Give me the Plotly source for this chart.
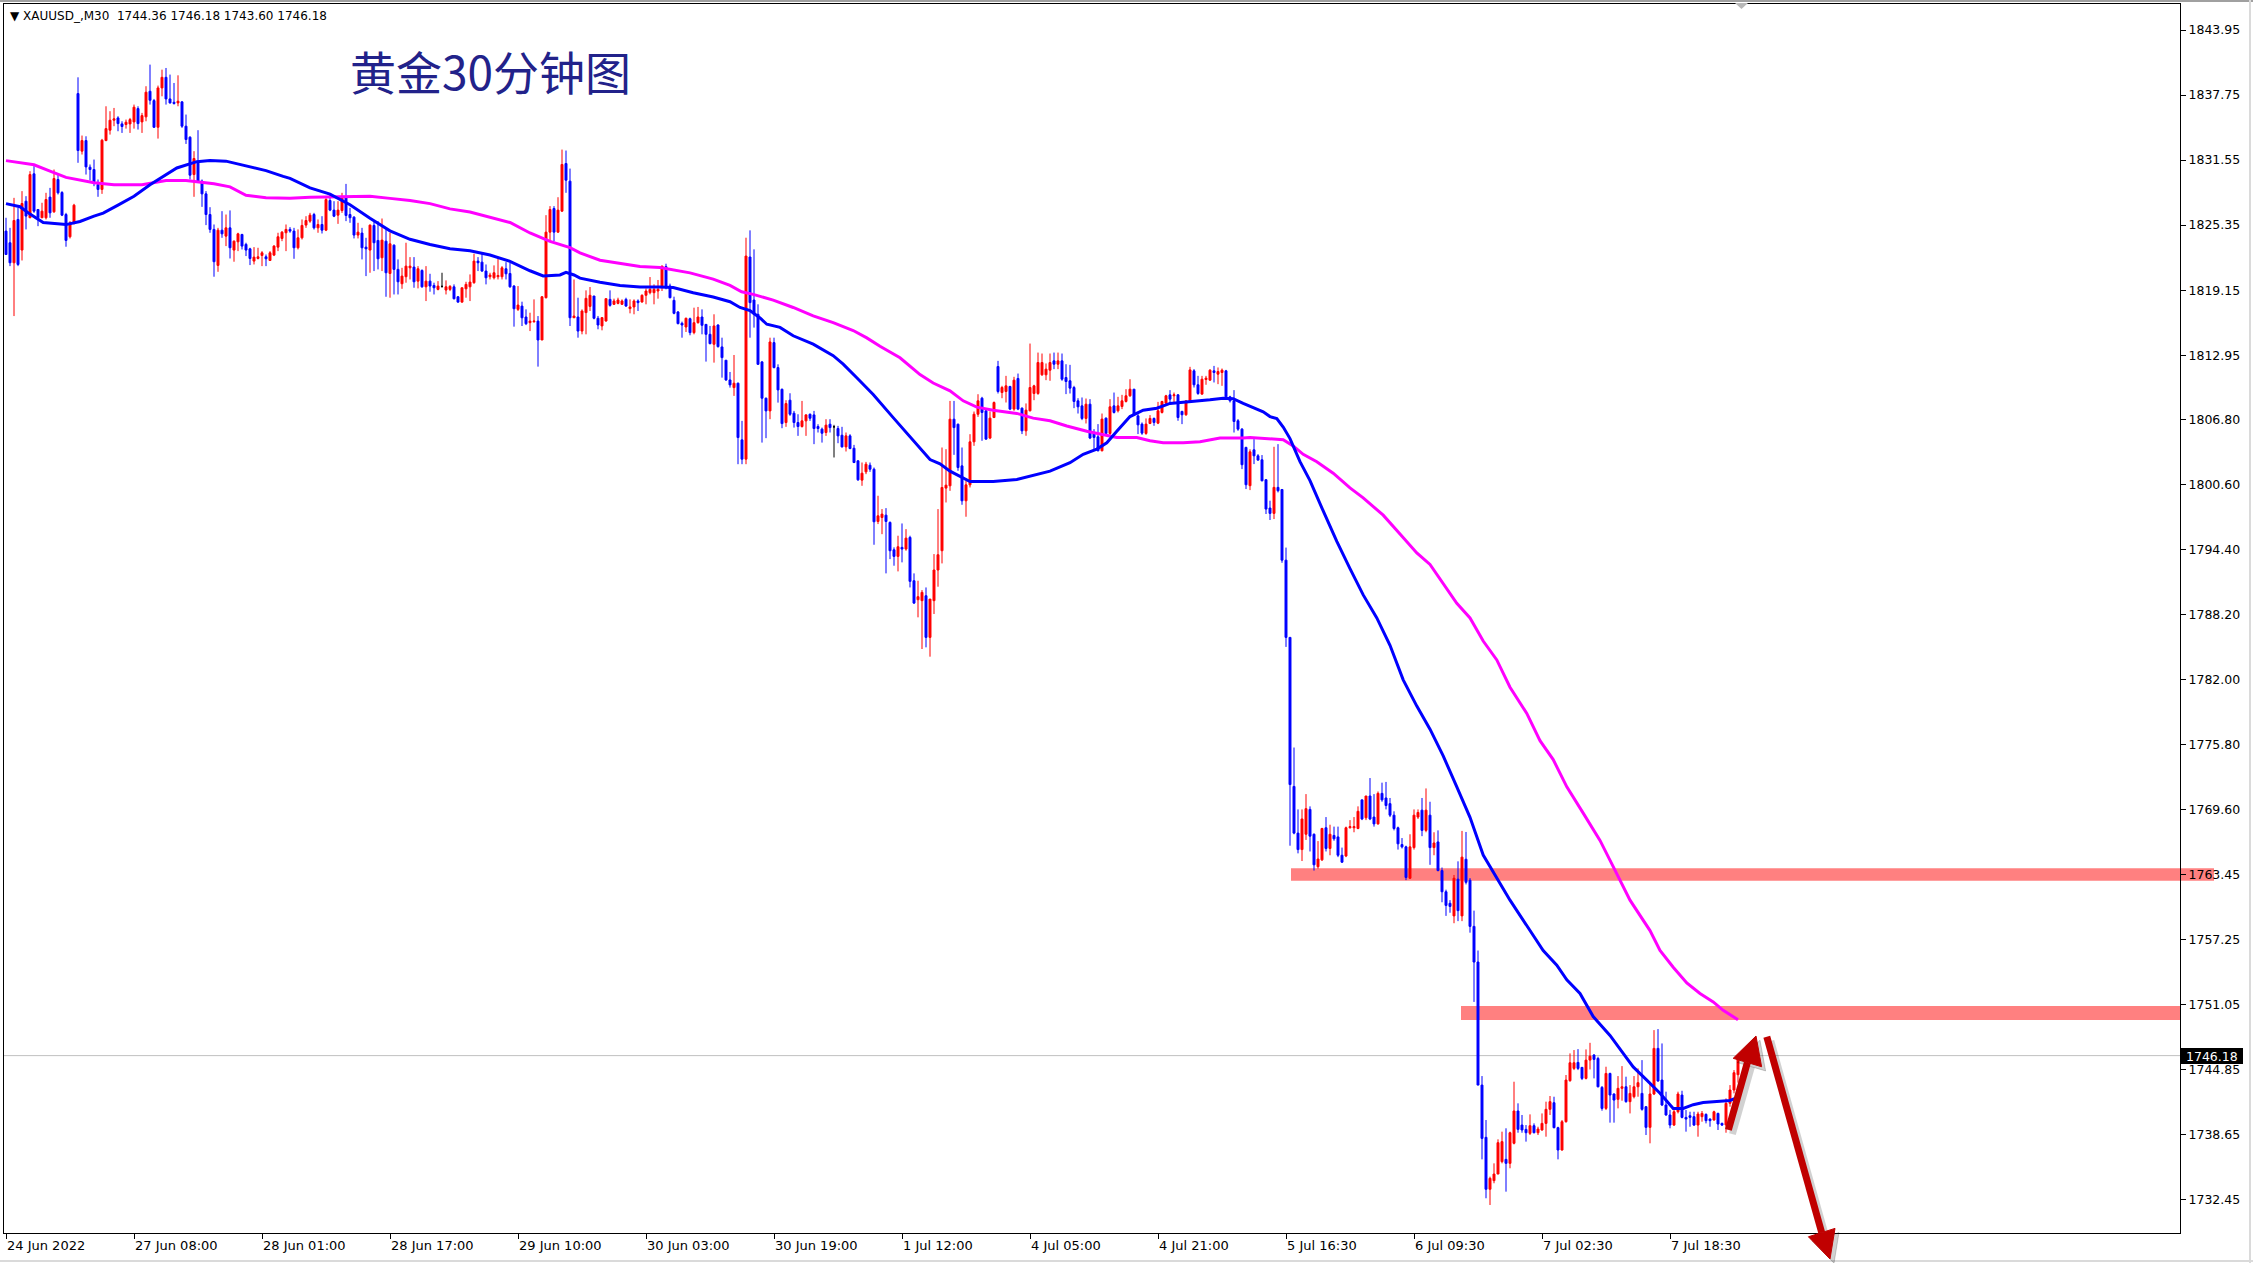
import plotly.graph_objects as go

# ---------------- data (30-minute XAUUSD bars, index 0 = 24 Jun 2022) ----------------
open_ = [
1824.78,1823.67,1821.76,1825.89,1822.97,1827.63,1826.05,1830.24,1826.84,1826.05,
1826.05,1828.02,1826.62,1829.70,1828.46,1826.36,1824.24,1825.51,1837.89,1832.40,
1833.41,1830.87,1830.65,1829.22,1828.75,1833.41,1834.40,1835.35,1835.57,1835.00,
1834.94,1835.00,1835.19,1836.46,1835.19,1835.67,1838.11,1837.22,1834.68,1838.43,
1839.44,1837.38,1837.06,1837.00,1837.10,1834.78,1833.73,1830.17,1831.29,1829.54,
1828.33,1826.36,1824.94,1821.51,1824.87,1824.30,1825.09,1822.97,1823.76,1824.46,
1823.51,1823.09,1821.92,1822.17,1822.46,1822.33,1821.98,1822.49,1823.25,1824.08,
1824.62,1824.94,1824.78,1823.19,1824.14,1825.35,1825.73,1826.36,1825.09,1825.41,
1824.87,1827.70,1826.78,1826.30,1826.74,1827.95,1826.36,1826.11,1824.40,1824.59,
1823.25,1822.97,1825.32,1823.89,1822.24,1823.82,1820.74,1823.44,1821.13,1819.76,
1820.43,1821.28,1821.35,1820.01,1821.03,1819.47,1820.01,1819.60,1819.22,1819.51,
1819.16,1819.22,1819.47,1818.52,1818.01,1819.28,1819.47,1819.86,1821.92,1821.82,
1820.97,1820.43,1820.33,1820.43,1820.43,1821.19,1820.74,1819.54,1817.32,1817.63,
1816.59,1816.05,1816.14,1816.20,1814.40,1818.43,1824.68,1826.93,1824.68,1826.68,
1831.22,1829.54,1816.52,1816.59,1815.25,1817.01,1817.60,1818.59,1816.47,1815.74,
1816.21,1818.27,1817.80,1817.89,1817.80,1818.27,1817.39,1817.55,1818.12,1818.02,
1818.66,1818.91,1818.91,1819.07,1819.55,1821.39,1819.55,1818.18,1817.07,1815.99,
1815.64,1816.43,1815.10,1816.05,1816.59,1815.89,1814.94,1813.99,1815.83,1813.74,
1812.47,1810.59,1809.86,1810.28,1804.88,1803.04,1822.31,1818.21,1816.85,1812.31,
1808.85,1807.64,1814.15,1811.77,1809.70,1806.53,1808.66,1807.42,1806.53,1806.15,
1806.69,1807.32,1807.26,1806.15,1805.90,1805.58,1806.37,1806.12,1805.96,1805.32,
1804.21,1805.26,1804.08,1802.88,1801.04,1801.83,1802.46,1802.08,1797.10,1797.48,
1797.70,1797.01,1794.40,1793.77,1794.63,1794.47,1795.58,1791.45,1789.64,1789.55,
1790.02,1786.05,1789.55,1792.47,1794.31,1800.28,1800.50,1806.85,1806.37,1802.40,
1799.07,1800.59,1804.69,1807.32,1808.85,1807.65,1805.05,1807.01,1811.87,1809.39,
1809.49,1809.97,1807.81,1810.73,1807.90,1805.74,1807.65,1809.30,1809.30,1811.08,
1811.08,1811.52,1812.41,1812.09,1812.41,1810.82,1810.51,1809.87,1808.60,1808.12,
1806.92,1808.28,1805.49,1805.17,1803.84,1806.95,1805.49,1808.12,1807.65,1808.06,
1808.54,1809.08,1809.71,1807.17,1806.38,1805.49,1806.44,1806.92,1806.47,1807.49,
1808.38,1809.17,1809.08,1809.17,1807.59,1807.27,1808.60,1811.46,1810.13,1809.24,
1810.63,1810.57,1811.46,1811.14,1811.30,1811.46,1808.98,1808.60,1806.70,1805.90,
1804.16,1800.51,1803.93,1803.36,1802.98,1801.08,1798.38,1797.87,1800.35,1800.15,
1793.41,1786.05,1771.84,1767.39,1765.82,1767.28,1769.65,1767.28,1764.19,1764.84,
1767.90,1765.93,1767.17,1767.03,1765.28,1765.21,1767.90,1767.90,1767.83,1770.56,
1768.85,1770.93,1768.92,1768.27,1771.18,1770.74,1770.20,1769.10,1767.90,1766.30,
1766.08,1763.09,1766.01,1768.92,1769.58,1767.65,1769.10,1766.01,1766.55,1763.82,
1761.80,1760.70,1759.50,1763.00,1759.50,1764.90,1762.90,1758.50,1755.10,1743.37,
1738.39,1733.44,1734.26,1734.89,1736.07,1736.29,1735.91,1737.82,1740.90,1739.56,
1739.15,1738.77,1739.50,1738.83,1739.09,1739.72,1741.06,1741.69,1739.31,1737.18,
1739.88,1743.79,1744.96,1745.53,1745.06,1744.01,1745.75,1746.23,1745.91,1743.15,
1741.15,1744.48,1742.52,1742.01,1743.06,1743.21,1741.79,1742.26,1743.21,1742.58,
1741.31,1739.34,1742.52,1746.87,1743.85,1741.47,1740.52,1739.56,1740.83,1742.42,
1740.29,1740.45,1740.36,1739.56,1740.36,1740.58,1740.13,1740.04,1740.67,1739.72,
1739.56,1741.63,1742.90,1744.36]

high = [
1826.05,1825.09,1827.95,1827.00,1828.59,1828.11,1830.49,1830.97,1826.84,1827.48,
1828.43,1828.90,1830.65,1830.17,1828.59,1826.52,1825.73,1827.38,1839.44,1833.89,
1833.82,1831.13,1831.60,1829.70,1833.57,1836.68,1836.21,1836.52,1835.73,1835.25,
1835.41,1835.57,1836.84,1836.68,1836.05,1838.59,1840.65,1837.38,1838.65,1840.17,
1840.33,1839.70,1838.90,1839.63,1837.16,1835.89,1833.82,1832.40,1834.40,1829.70,
1828.59,1827.06,1825.41,1825.09,1826.68,1826.36,1826.75,1823.89,1824.62,1824.52,
1823.67,1823.19,1823.25,1823.19,1822.87,1822.55,1822.87,1823.44,1824.62,1824.78,
1825.41,1825.16,1825.09,1824.94,1825.89,1826.20,1826.52,1826.52,1825.89,1826.20,
1828.11,1828.27,1827.63,1827.63,1828.43,1829.28,1827.00,1826.20,1825.57,1825.09,
1824.14,1825.41,1825.73,1825.73,1825.98,1824.93,1824.62,1823.51,1822.08,1821.28,
1823.67,1822.30,1822.30,1821.44,1821.13,1821.44,1820.71,1819.86,1820.01,1820.81,
1820.08,1819.63,1819.70,1818.59,1819.38,1819.95,1820.65,1822.62,1822.30,1822.62,
1821.60,1820.81,1821.51,1822.30,1821.44,1821.82,1821.76,1819.63,1819.54,1818.05,
1817.32,1817.00,1818.27,1816.68,1818.59,1826.30,1827.16,1827.16,1828.01,1832.55,
1832.46,1830.74,1820.17,1818.43,1817.32,1819.13,1819.45,1818.59,1816.69,1816.59,
1818.34,1819.13,1818.34,1818.43,1818.27,1818.43,1818.27,1818.27,1818.27,1818.75,
1819.32,1820.40,1819.70,1820.12,1821.45,1821.67,1819.77,1818.53,1817.16,1816.15,
1816.53,1816.53,1817.48,1817.55,1817.32,1815.89,1815.74,1816.85,1815.89,1814.62,
1812.47,1811.35,1812.97,1810.34,1806.69,1824.15,1824.85,1823.04,1817.80,1812.40,
1808.91,1814.62,1814.62,1812.08,1809.77,1808.66,1809.32,1807.64,1807.32,1808.59,
1807.32,1807.39,1807.64,1806.37,1806.05,1806.85,1806.85,1806.31,1806.21,1806.12,
1805.58,1805.42,1804.40,1802.94,1802.72,1802.78,1802.72,1802.24,1799.55,1798.28,
1798.37,1797.10,1794.63,1795.74,1796.91,1796.37,1795.74,1792.15,1791.45,1790.56,
1790.81,1789.70,1793.99,1798.28,1804.15,1803.99,1808.59,1808.59,1806.43,1804.15,
1800.97,1805.42,1807.58,1809.23,1808.98,1807.81,1807.59,1808.54,1812.41,1810.03,
1810.98,1810.03,1810.89,1811.20,1807.97,1808.35,1814.06,1810.13,1813.20,1813.11,
1812.16,1813.11,1813.20,1813.20,1813.11,1812.09,1812.03,1810.03,1808.85,1808.92,
1808.82,1808.76,1805.90,1806.38,1807.39,1807.01,1808.76,1809.39,1808.98,1809.17,
1809.71,1810.66,1809.71,1807.33,1806.54,1806.92,1807.24,1807.01,1808.50,1808.60,
1809.17,1809.62,1809.39,1809.24,1807.65,1808.60,1811.84,1811.62,1810.98,1810.98,
1810.98,1811.62,1811.93,1811.78,1811.68,1811.55,1809.08,1809.62,1806.86,1806.00,
1804.22,1803.98,1804.95,1803.52,1803.43,1801.14,1799.08,1804.22,1804.47,1800.15,
1794.61,1786.05,1775.55,1769.65,1769.65,1771.11,1769.94,1767.36,1766.63,1767.90,
1768.92,1768.19,1768.01,1768.01,1766.01,1768.01,1768.63,1768.92,1769.94,1770.56,
1770.93,1772.64,1771.11,1771.36,1772.20,1772.27,1770.74,1769.47,1768.01,1766.92,
1766.19,1767.28,1769.65,1769.65,1770.74,1771.65,1770.38,1767.47,1767.65,1764.11,
1762.00,1761.00,1763.40,1764.70,1767.60,1767.50,1763.10,1760.00,1756.20,1744.23,
1740.04,1734.64,1735.91,1738.20,1738.93,1739.25,1738.93,1743.69,1741.63,1740.52,
1739.56,1740.58,1739.72,1739.40,1740.67,1741.79,1742.33,1742.26,1739.40,1740.04,
1744.33,1746.39,1746.71,1746.80,1745.06,1746.77,1747.40,1746.33,1746.07,1743.28,
1745.12,1744.55,1742.58,1744.23,1745.18,1744.17,1743.37,1744.23,1744.96,1745.75,
1741.37,1743.53,1748.61,1748.71,1747.34,1742.74,1741.00,1741.06,1742.74,1742.83,
1740.99,1740.83,1740.83,1740.83,1740.90,1740.67,1740.20,1740.93,1740.74,1739.79,
1742.10,1743.37,1744.80,1746.18]

low = [
1822.55,1821.44,1816.68,1821.44,1821.98,1824.94,1826.05,1826.52,1825.25,1826.05,
1825.89,1826.05,1826.52,1828.27,1826.21,1823.29,1824.08,1825.41,1831.29,1832.08,
1830.17,1829.60,1829.06,1828.05,1828.33,1833.35,1833.98,1834.78,1834.30,1834.14,
1834.55,1834.14,1834.55,1834.46,1834.14,1835.25,1836.84,1834.62,1833.60,1837.63,
1836.84,1836.94,1836.84,1836.68,1834.62,1833.09,1829.70,1828.05,1829.38,1827.09,
1825.35,1824.62,1820.43,1820.90,1824.14,1823.35,1822.17,1821.86,1822.87,1823.03,
1822.40,1821.54,1821.60,1822.08,1821.44,1821.44,1821.98,1822.40,1822.87,1823.82,
1822.87,1824.62,1822.14,1823.03,1823.98,1825.09,1825.57,1824.93,1824.62,1824.55,
1824.78,1826.68,1826.11,1825.47,1826.52,1825.73,1825.57,1824.08,1824.08,1822.08,
1820.49,1820.81,1820.97,1821.13,1820.97,1818.52,1818.43,1818.74,1818.74,1819.28,
1819.86,1820.17,1819.38,1819.32,1819.38,1818.11,1819.00,1818.74,1819.13,1819.38,
1818.74,1819.06,1818.27,1817.95,1817.95,1818.43,1818.11,1819.76,1820.97,1820.90,
1819.70,1820.17,1820.17,1820.17,1820.17,1820.17,1819.38,1815.67,1817.16,1815.73,
1815.82,1815.25,1816.05,1811.86,1814.40,1818.36,1823.82,1823.82,1824.62,1826.62,
1828.43,1815.73,1816.52,1814.62,1814.94,1814.94,1817.16,1816.37,1815.42,1815.32,
1816.15,1817.58,1817.74,1817.80,1817.74,1817.55,1816.94,1816.85,1817.16,1817.96,
1817.80,1818.75,1817.80,1818.34,1819.07,1819.23,1818.37,1816.85,1815.89,1814.62,
1815.16,1814.85,1814.94,1815.96,1814.94,1812.34,1813.99,1812.24,1813.67,1810.81,
1810.50,1809.86,1809.07,1802.56,1802.56,1802.56,1814.62,1815.58,1812.02,1804.62,
1805.04,1806.85,1811.70,1808.43,1805.99,1806.12,1807.17,1806.05,1805.26,1806.05,
1805.26,1806.69,1804.47,1805.58,1804.62,1805.26,1805.58,1803.20,1804.56,1804.15,
1803.77,1803.99,1802.66,1800.97,1800.50,1801.61,1801.83,1794.88,1796.85,1795.89,
1792.15,1793.51,1792.88,1792.34,1793.20,1794.31,1790.81,1789.23,1787.96,1784.94,
1785.10,1784.21,1788.28,1790.88,1793.10,1798.91,1800.02,1803.45,1801.93,1798.69,
1797.55,1800.34,1804.31,1807.07,1804.79,1804.87,1804.95,1806.95,1809.30,1808.85,
1808.44,1807.71,1807.65,1807.71,1805.43,1805.27,1807.59,1808.66,1809.17,1810.98,
1810.57,1810.51,1811.62,1811.62,1810.51,1809.24,1809.30,1807.90,1807.39,1806.76,
1806.44,1804.95,1803.84,1803.78,1803.78,1805.43,1805.27,1807.39,1807.49,1807.81,
1808.44,1808.98,1807.17,1805.43,1805.36,1805.36,1806.38,1806.22,1806.38,1807.39,
1808.28,1808.22,1808.44,1806.70,1806.38,1807.17,1808.54,1809.87,1809.17,1809.17,
1810.13,1810.51,1810.35,1810.19,1810.03,1808.85,1808.44,1805.58,1805.74,1802.09,
1800.19,1800.09,1802.57,1802.89,1800.92,1797.81,1797.24,1797.33,1799.87,1793.16,
1785.14,1766.19,1767.28,1765.46,1764.73,1766.74,1765.64,1763.82,1764.00,1764.73,
1765.64,1765.28,1766.66,1765.10,1764.55,1765.10,1767.83,1767.47,1767.76,1768.63,
1768.63,1768.63,1768.01,1768.19,1770.38,1769.65,1768.92,1767.65,1765.82,1765.93,
1762.91,1763.02,1765.82,1768.74,1767.10,1767.47,1764.37,1765.28,1763.75,1760.80,
1759.50,1759.80,1758.80,1759.00,1759.00,1762.50,1757.90,1751.30,1743.37,1736.29,
1732.58,1731.94,1734.01,1734.89,1735.91,1733.21,1735.44,1737.72,1738.83,1738.83,
1737.98,1738.61,1738.77,1738.61,1739.02,1738.45,1740.52,1739.25,1736.29,1737.12,
1739.79,1743.69,1744.80,1744.80,1743.85,1743.91,1744.86,1744.01,1743.15,1740.93,
1740.99,1739.79,1739.79,1741.15,1741.88,1741.69,1740.67,1742.10,1742.26,1740.93,
1738.61,1737.82,1742.42,1743.69,1741.37,1740.45,1739.25,1739.47,1740.67,1740.20,
1738.93,1739.40,1739.47,1738.45,1739.88,1739.72,1739.40,1739.98,1739.09,1739.47,
1738.83,1741.31,1742.58,1743.60]

close = [
1822.55,1821.76,1825.79,1821.60,1827.41,1826.21,1830.17,1826.68,1826.05,1826.68,
1827.79,1826.52,1829.79,1828.43,1826.30,1823.89,1825.57,1827.25,1832.46,1833.41,
1830.90,1830.65,1829.48,1828.75,1833.44,1834.55,1835.35,1835.48,1835.03,1834.75,
1835.16,1835.41,1836.59,1835.03,1835.79,1838.02,1837.25,1834.68,1838.43,1839.44,
1837.38,1837.00,1836.94,1837.16,1834.78,1833.51,1830.11,1831.70,1829.54,1828.33,
1826.36,1824.94,1821.86,1824.87,1824.52,1825.09,1823.19,1823.82,1824.52,1823.35,
1822.97,1822.17,1822.30,1822.33,1822.71,1822.14,1822.71,1823.35,1824.24,1824.68,
1824.94,1824.78,1823.19,1824.14,1825.32,1825.79,1826.30,1825.09,1825.41,1824.87,
1827.79,1826.78,1826.20,1826.78,1827.95,1826.27,1826.05,1824.40,1824.68,1823.19,
1823.09,1825.35,1823.67,1822.14,1823.92,1820.81,1823.57,1821.13,1819.95,1820.49,
1821.44,1821.44,1819.95,1821.19,1819.47,1820.01,1819.54,1819.38,1819.54,1819.51,
1819.47,1819.51,1818.33,1818.01,1819.38,1819.70,1819.92,1821.92,1821.76,1820.97,
1820.33,1820.59,1820.81,1820.55,1821.28,1820.71,1819.47,1817.38,1817.73,1816.52,
1815.95,1816.20,1816.20,1814.40,1818.52,1824.68,1826.84,1824.68,1826.78,1831.13,
1829.63,1816.52,1816.68,1815.25,1817.16,1818.37,1818.66,1816.47,1815.83,1816.53,
1818.34,1817.70,1818.12,1818.21,1818.12,1817.64,1817.55,1818.12,1817.96,1818.66,
1819.07,1819.23,1819.23,1819.23,1821.45,1819.39,1818.43,1816.94,1815.96,1815.83,
1816.47,1815.10,1816.05,1816.59,1815.80,1814.94,1814.05,1815.74,1813.77,1812.72,
1810.59,1810.12,1810.28,1805.10,1803.04,1822.40,1817.96,1816.85,1812.08,1808.85,
1807.64,1814.21,1811.77,1809.64,1806.43,1808.34,1807.32,1806.53,1806.15,1806.69,
1807.26,1806.94,1805.96,1805.96,1805.51,1806.28,1806.05,1806.12,1805.26,1804.21,
1805.26,1804.05,1802.72,1801.07,1801.70,1802.56,1802.08,1797.07,1797.64,1797.80,
1797.10,1794.31,1793.77,1794.69,1794.47,1795.51,1791.39,1789.32,1789.93,1790.34,
1786.05,1789.70,1792.47,1793.93,1800.34,1800.56,1806.85,1806.05,1802.24,1799.07,
1800.59,1804.69,1807.32,1808.60,1807.49,1804.95,1806.95,1808.44,1809.49,1809.87,
1810.03,1807.81,1810.57,1807.81,1805.74,1807.71,1809.87,1810.03,1812.25,1812.25,
1811.62,1812.25,1812.09,1812.41,1810.66,1810.44,1809.81,1808.54,1808.03,1806.92,
1808.28,1805.05,1805.11,1803.84,1806.86,1805.49,1808.03,1807.49,1808.12,1808.60,
1809.08,1809.71,1807.27,1806.31,1805.52,1806.38,1806.92,1806.54,1807.65,1808.54,
1809.08,1808.76,1809.17,1807.01,1807.27,1808.60,1811.55,1810.13,1809.30,1810.66,
1810.76,1811.52,1811.30,1811.39,1811.52,1808.98,1808.60,1806.63,1805.90,1802.51,
1800.60,1803.74,1803.36,1802.95,1800.98,1798.28,1797.87,1800.35,1800.03,1793.41,
1786.05,1772.02,1767.39,1765.82,1768.74,1769.72,1767.10,1764.37,1764.92,1767.83,
1765.93,1767.28,1766.85,1765.28,1764.62,1767.90,1768.01,1768.01,1769.47,1768.74,
1770.93,1768.74,1768.27,1771.18,1770.56,1770.02,1769.10,1767.83,1766.37,1766.08,
1763.16,1766.08,1769.10,1769.36,1767.65,1769.58,1766.01,1766.45,1763.82,1761.80,
1760.50,1760.40,1763.09,1760.00,1765.10,1762.70,1758.50,1755.10,1743.37,1738.29,
1733.44,1734.48,1734.89,1737.88,1737.98,1735.91,1738.83,1740.90,1739.15,1739.09,
1738.83,1739.50,1738.83,1739.18,1739.72,1741.06,1741.79,1739.31,1737.18,1739.88,
1743.85,1745.50,1745.50,1744.96,1744.01,1745.75,1746.13,1745.82,1743.21,1741.15,
1744.48,1742.42,1741.94,1743.06,1743.21,1741.79,1742.58,1743.21,1743.60,1741.06,
1739.34,1742.52,1746.87,1743.76,1741.47,1740.52,1739.56,1740.83,1742.52,1740.29,
1740.13,1740.29,1739.56,1740.61,1740.67,1739.98,1739.98,1740.83,1739.66,1739.56,
1741.63,1742.90,1744.55,1746.18]

# moving averages: (bar index, price)
ma_fast = [(0,1827.4),(3.5,1827.1),(6,1826.4),(9.3,1825.6),(15,1825.4),(18.5,1825.7),(22,1826.2),
(24.3,1826.5),(28,1827.25),(32,1828.1),(36,1829.2),(39.3,1830.0),(42.7,1830.8),(47.7,1831.4),(51,1831.5),
(55,1831.45),(60,1831.0),(65,1830.55),(69.3,1830.0),(71,1829.8),(76,1828.9),(81,1828.3),(86,1827.3),
(91,1826.0),(96,1824.8),(101,1824.0),(106,1823.5),(111,1823.1),(116,1822.9),(121,1822.5),(126,1821.9),
(131,1821.0),(134.3,1820.5),(138.5,1820.6),(140,1820.85),(142,1820.6),(143.5,1820.3),(148.5,1819.9),
(153.5,1819.6),(158.5,1819.45),(163.5,1819.45),(166.8,1819.4),(171.8,1818.9),(176.8,1818.5),(181,1818.05),
(183.5,1817.5),(186,1817.2),(188.5,1816.5),(190.2,1815.9),(193.5,1815.6),(196.8,1814.8),(201.8,1814.0),
(206.8,1812.9),(209.3,1812.1),(212.7,1810.8),(216.8,1809.2),(221.8,1807.0),(226.8,1804.8),(231,1803.0),
(233.5,1802.6),(236,1801.9),(241,1800.9),(246.8,1800.9),(252.7,1801.1),(257.7,1801.55),(261,1801.9),
(266,1802.7),(269.3,1803.5),(272.7,1804.0),(275.2,1804.6),(277.7,1805.7),(281,1807.1),(284.3,1807.7),
(287.7,1807.9),(291,1808.35),(296,1808.5),(301,1808.7),(304.3,1808.85),(306.8,1808.8),(309.3,1808.35),
(311,1808.1),(314.3,1807.55),(316,1807.1),(317.7,1806.9),(319.3,1806.1),(321,1805.0),(323.5,1802.8),
(326,1801.0),(329.3,1798.1),(332.7,1795.2),(336,1792.6),(339.3,1790.1),(342.7,1787.9),(346,1785.3),
(349.3,1782.0),(352.7,1779.5),(356,1777.3),(359.3,1774.75),(362.7,1771.8),(366,1768.9),(369.3,1765.3),
(372.7,1763.1),(376,1761.0),(384.3,1756.2),(387.7,1754.8),(390.2,1753.4),(393.5,1752.1),(396.8,1749.9),
(401,1748.1),(404.3,1746.4),(406.8,1745.1),(410.2,1743.85),(413.5,1742.6),(416.8,1741.15),(419.3,1741.15),
(421.8,1741.5),(424.3,1741.7),(427.7,1741.8),(431,1741.9),(433,1742.2)]

ma_slow = [(0,1831.5),(7,1831.1),(11,1830.5),(15,1829.9),(22,1829.4),(27,1829.2),(34,1829.2),(40,1829.6),
(45,1829.6),(52,1829.3),(56,1829.0),(60,1828.2),(65,1827.95),(71,1827.9),(76,1828.0),(91,1828.1),(96,1827.9),
(101,1827.7),(106,1827.4),(111,1826.9),(116,1826.6),(121,1826.1),(126,1825.6),(131,1824.6),(136,1823.8),
(141,1823.2),(143.5,1822.7),(148.5,1822.0),(153.5,1821.7),(158.5,1821.4),(163.5,1821.3),(166.8,1821.1),
(171,1820.8),(176.8,1820.2),(181,1819.6),(183.9,1819.0),(186.8,1818.75),(191.8,1818.2),(196.8,1817.5),
(201.8,1816.7),(206.8,1816.05),(211.8,1815.3),(215.2,1814.6),(218.5,1813.8),(223.5,1812.7),(228.5,1811.1),
(231.8,1810.3),(236,1809.55),(239.3,1808.6),(242.7,1808.0),(246.8,1807.7),(252.7,1807.4),(256.8,1806.95),
(261,1806.7),(265.2,1806.2),(270.2,1805.7),(274.3,1805.4),(277.7,1805.1),(282.7,1805.1),(286,1804.8),
(289.3,1804.6),(294.3,1804.6),(298.5,1804.7),(303.5,1805.05),(309.3,1805.05),(311,1805.1),(319.3,1804.9),
(321.8,1804.3),(324.3,1803.5),(327.7,1802.8),(331.8,1801.7),(336,1800.3),(339.3,1799.35),(344.3,1797.7),
(348.5,1795.9),(352.7,1794.1),(356,1793.0),(359.3,1791.15),(362.7,1789.3),(366,1787.9),(369.3,1785.7),
(372.7,1783.9),(376,1781.3),(380.2,1778.8),(383.5,1776.2),(386.8,1774.4),(390.2,1771.8),(394.3,1769.3),
(398.5,1766.7),(401.8,1764.2),(406,1761.0),(411,1758.1),(413.5,1756.2),(416.8,1754.6),(420.2,1753.1),
(423.5,1752.1),(426.8,1751.3),(429.3,1750.5),(431.8,1749.9),(433,1749.6)]

x_tick_idx = [0, 32, 64, 96, 128, 160, 192, 224, 256, 288, 320, 352, 384, 416]
x_tick_text = ["24 Jun 2022", "27 Jun 08:00", "28 Jun 01:00", "28 Jun 17:00", "29 Jun 10:00",
               "30 Jun 03:00", "30 Jun 19:00", "1 Jul 12:00", "4 Jul 05:00", "4 Jul 21:00",
               "5 Jul 16:30", "6 Jul 09:30", "7 Jul 02:30", "7 Jul 18:30"]
y_tick_vals = [1843.95, 1837.75, 1831.55, 1825.35, 1819.15, 1812.95, 1806.80, 1800.60, 1794.40,
               1788.20, 1782.00, 1775.80, 1769.60, 1763.45, 1757.25, 1751.05, 1744.85, 1738.65, 1732.45]

# resistance zones: (start bar, low, high)
zones = [(321.25, 1762.85, 1764.03), (363.75, 1749.57, 1750.91)]
zone_right_end = [2214, 2180]  # pixel x where each zone stops

# hand drawn arrows in (bar, price): tail, head-left, head-right, tip
arrow_up = [(430.6, 1739.1), (431.8, 1745.92), (438.9, 1745.12), (437.5, 1748.05)]
arrow_down = [(440.2, 1747.98), (450.6, 1728.91), (457.25, 1729.71), (456.0, 1726.79)]

symbol = "XAUUSD_,M30"
title = "黄金30分钟图"

# ---------------- geometry ----------------
W, H = 2253, 1263
L, R, T, B = 4, 73, 4, 30
PW, PH = W - L - R, H - T - B
XR = [-0.5, -0.5 + PW / 4.0]
YR = [1729.27, 1729.27 + PH / 10.49]

def px(i):
    return (i - XR[0]) / (XR[1] - XR[0])

def py(p):
    return (p - YR[0]) / (YR[1] - YR[0])

def ppx(xpix):
    return (xpix - L) / PW

def ppy(ypix):
    return (H - B - ypix) / PH

n = len(close)
idx = list(range(n))
norm = [i for i in idx if open_[i] != close[i]]
doji = [i for i in idx if open_[i] == close[i]]

fig = go.Figure()
fig.add_trace(go.Candlestick(
    x=norm, open=[open_[i] for i in norm], high=[high[i] for i in norm],
    low=[low[i] for i in norm], close=[close[i] for i in norm],
    increasing=dict(line=dict(color="#FF0000", width=1), fillcolor="#FF0000"),
    decreasing=dict(line=dict(color="#0000FF", width=1), fillcolor="#0000FF"),
    whiskerwidth=0, showlegend=False, hoverinfo="skip"))
if doji:
    fig.add_trace(go.Candlestick(
        x=doji, open=[open_[i] for i in doji], high=[high[i] for i in doji],
        low=[low[i] for i in doji], close=[close[i] for i in doji],
        increasing=dict(line=dict(color="#000000", width=1), fillcolor="#000000"),
        decreasing=dict(line=dict(color="#000000", width=1), fillcolor="#000000"),
        whiskerwidth=0, showlegend=False, hoverinfo="skip"))

fig.add_trace(go.Scatter(x=[a for a, b in ma_slow], y=[b for a, b in ma_slow], mode="lines",
                         line=dict(color="#FF00FF", width=3), showlegend=False, hoverinfo="skip"))
fig.add_trace(go.Scatter(x=[a for a, b in ma_fast], y=[b for a, b in ma_fast], mode="lines",
                         line=dict(color="#0000FF", width=3), showlegend=False, hoverinfo="skip"))

shapes = []
# window edges
shapes.append(dict(type="line", xref="paper", yref="paper", x0=ppx(0), x1=ppx(W), y0=ppy(1), y1=ppy(1),
                   line=dict(color="#A0A0A0", width=2)))
shapes.append(dict(type="line", xref="paper", yref="paper", x0=ppx(2250), x1=ppx(2250), y0=ppy(0), y1=ppy(H),
                   line=dict(color="#DADADA", width=2)))
shapes.append(dict(type="line", xref="paper", yref="paper", x0=ppx(0), x1=ppx(W), y0=ppy(1261), y1=ppy(1261),
                   line=dict(color="#DADADA", width=2)))
# last price line
shapes.append(dict(type="line", xref="paper", yref="y", x0=0, x1=1, y0=close[-1], y1=close[-1],
                   line=dict(color="#C0C0C0", width=1), layer="below"))
# zones
for (s, lo, hi), xe in zip(zones, zone_right_end):
    shapes.append(dict(type="rect", xref="paper", yref="paper", x0=px(s), x1=ppx(xe), y0=py(lo), y1=py(hi),
                       fillcolor="#FF8080", line=dict(width=0), layer="below"))

def arrow_shapes(a, color, dx=0.0, dy=0.0):
    tail, hl, hr, tip = a
    mid = ((hl[0] + hr[0]) / 2, (hl[1] + hr[1]) / 2)
    out = [dict(type="line", xref="paper", yref="paper",
                x0=px(tail[0] + dx), y0=py(tail[1] + dy), x1=px(mid[0] + dx), y1=py(mid[1] + dy),
                line=dict(color=color, width=7))]
    path = "M {},{} L {},{} L {},{} Z".format(px(hl[0] + dx), py(hl[1] + dy), px(tip[0] + dx), py(tip[1] + dy),
                                              px(hr[0] + dx), py(hr[1] + dy))
    out.append(dict(type="path", xref="paper", yref="paper", path=path, fillcolor=color,
                    line=dict(color=color, width=1)))
    return out

for a in (arrow_up, arrow_down):
    shapes += arrow_shapes(a, "rgba(0,0,0,0.18)", dx=1.0, dy=-0.4)
for a in (arrow_up, arrow_down):
    shapes += arrow_shapes(a, "#C00000")

# price box on axis
shapes.append(dict(type="rect", xref="paper", yref="paper", x0=ppx(2181), x1=ppx(2243),
                   y0=ppy(1064), y1=ppy(1048), fillcolor="#000000", line=dict(width=0)))
# shift marker
shapes.append(dict(type="path", xref="paper", yref="paper",
                   path="M {},{} L {},{} L {},{} Z".format(ppx(1735), ppy(3), ppx(1748), ppy(3), ppx(1741.5), ppy(9)),
                   fillcolor="#B8B8B8", line=dict(width=0)))

annotations = [
    dict(xref="paper", yref="paper", x=ppx(8), y=ppy(16), xanchor="left", yanchor="middle",
         text="▼ {}  {:.2f} {:.2f} {:.2f} {:.2f}".format(symbol, open_[-1], high[-1], low[-1], close[-1]),
         showarrow=False, font=dict(family="DejaVu Sans", size=12, color="#000000")),
    dict(xref="paper", yref="paper", x=ppx(490), y=ppy(70), xanchor="center", yanchor="middle",
         text=title, showarrow=False, font=dict(family="Noto Sans CJK SC", size=46, color="#22228A")),
    dict(xref="paper", yref="paper", x=ppx(2212), y=ppy(1056), xanchor="center", yanchor="middle",
         text="{:.2f}".format(close[-1]), showarrow=False,
         font=dict(family="DejaVu Sans", size=12.5, color="#FFFFFF")),
]

fig.update_layout(
    width=W, height=H, margin=dict(l=L, r=R, t=T, b=B, pad=0),
    paper_bgcolor="#FFFFFF", plot_bgcolor="#FFFFFF",
    showlegend=False, shapes=shapes, annotations=annotations,
    xaxis=dict(range=XR, tickvals=x_tick_idx, ticktext=x_tick_text, ticks="outside", ticklen=5,
               tickcolor="#000000", showline=True, linecolor="#000000", linewidth=1, mirror=True,
               showgrid=False, zeroline=False, ticklabelposition="outside right",
               tickfont=dict(family="DejaVu Sans", size=13, color="#000000"),
               rangeslider=dict(visible=False), fixedrange=True),
    yaxis=dict(range=YR, side="right", tickvals=y_tick_vals, ticktext=["{:.2f}".format(v) for v in y_tick_vals],
               ticks="outside", ticklen=5, tickcolor="#000000", showline=True, linecolor="#000000",
               linewidth=1, mirror=True, showgrid=False, zeroline=False,
               tickfont=dict(family="DejaVu Sans", size=12.5, color="#000000"), fixedrange=True),
)

fig.write_html("out.html", config={"displayModeBar": False},
               post_script="document.body.style.margin='0px';document.body.style.overflow='hidden';")
